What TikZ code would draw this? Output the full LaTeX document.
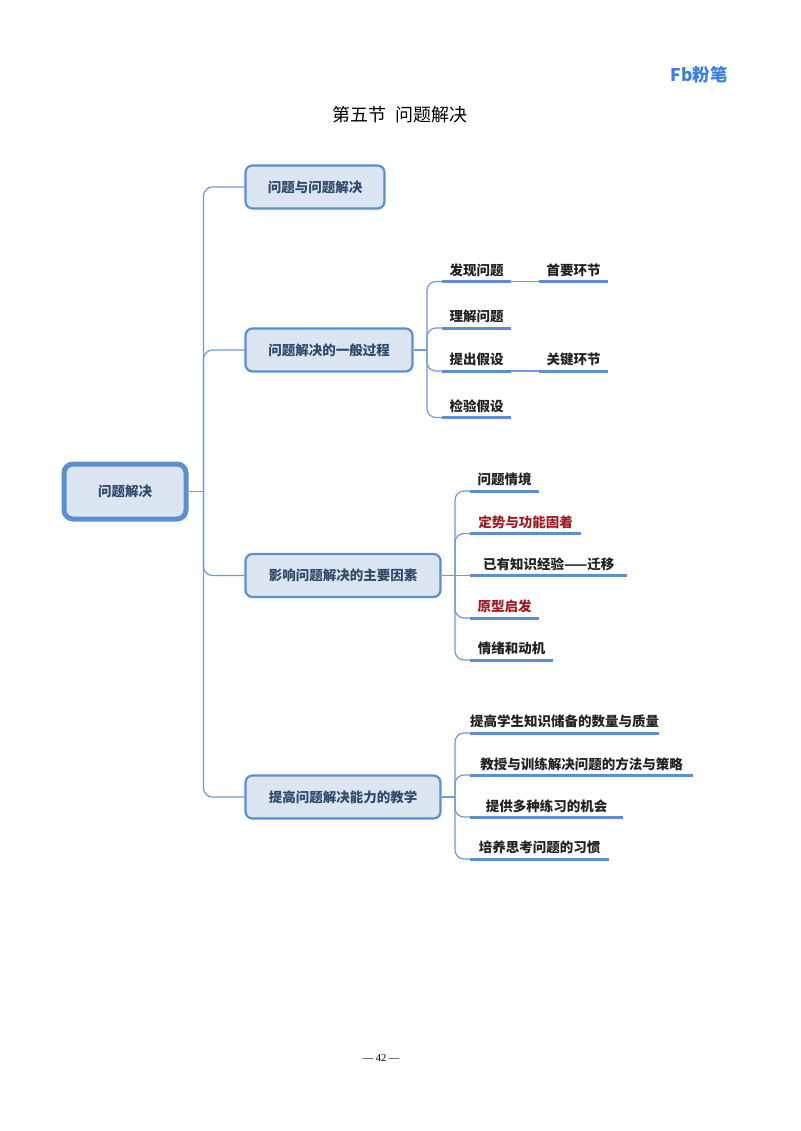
\documentclass[tikz,border=0pt]{standalone}
\usepackage{fontspec}
\setmainfont{Liberation Serif}
\newfontfamily\cjk{Noto Sans CJK SC}
\definecolor{linec}{HTML}{6F9BD6}
\definecolor{edgec}{HTML}{5B8FD0}
\definecolor{fillc}{HTML}{DCE6F2}
\definecolor{textb}{HTML}{2F4A6B}
\definecolor{textk}{HTML}{222222}
\definecolor{textr}{HTML}{A01C24}
\definecolor{logoc}{HTML}{3D7FE0}
\tikzset{
  conn/.style={draw=linec,line width=1.2pt,rounded corners=9pt},
  boxn/.style={draw=edgec,fill=fillc,rounded corners=7pt,line width=2.2pt,inner sep=0pt,
    text=textb,font=\cjk\bfseries\fontsize{13.5}{14}\selectfont},
  rootn/.style={boxn,line width=5pt,rounded corners=9pt},
  leaf/.style={anchor=south west,inner sep=0pt,minimum height=22pt,text=textk,
    font=\cjk\bfseries\fontsize{13.5}{14}\selectfont,align=center},
  leafred/.style={leaf,text=textr},
  under/.style={draw=edgec,line width=3pt},
}
\newcommand{\leafnode}[6][leaf]{%
  \node[#1,minimum width=#3-#2] (#6) at (#2,#4) {#5};
  \draw[under] (#6.south west) -- (#6.south east);}
\begin{document}
\begin{tikzpicture}[x=1pt,y=-1pt]
\useasboundingbox[fill=white] (0,0) rectangle (800,1131);
\node[inner sep=0pt,text=logoc,font=\cjk\bfseries\fontsize{17.5}{18}\selectfont] (logo) at (699,75) {Fb粉笔};
\node[inner sep=0pt,text=black,font=\cjk\fontsize{18}{20}\selectfont] (title) at (400,115) {第五节\ \ 问题解决};
\node[inner sep=0pt,text=black,font=\fontsize{10.5}{12}\selectfont] (pg) at (381,1058) {— 42 —};

\node[rootn,minimum width=122pt,minimum height=55pt] (root) at (125,491.5) {问题解决};
\node[boxn,minimum width=139pt,minimum height=43pt] (b1) at (315,187) {问题与问题解决};
\node[boxn,minimum width=167pt,minimum height=43pt] (b2) at (329,350) {问题解决的一般过程};
\node[boxn,minimum width=195pt,minimum height=43pt] (b3) at (343,575.5) {影响问题解决的主要因素};
\node[boxn,minimum width=195pt,minimum height=43pt] (b4) at (343,797) {提高问题解决能力的教学};

\coordinate (tr) at (203.5,491.5);
\draw[conn] (root.east) -- (tr);
\draw[conn] (tr) |- (b1.west);
\draw[conn] (tr) |- (b2.west);
\draw[conn] (tr) |- (b3.west);
\draw[conn] (tr) |- (b4.west);

\leafnode{442}{511}{281.5}{发现问题}{p1}
\leafnode{442}{511}{328}{理解问题}{p2}
\leafnode{442}{511}{371}{提出假设}{p3}
\leafnode{442}{511}{417.5}{检验假设}{p4}
\leafnode{539}{608}{281.5}{首要环节}{p1a}
\leafnode{539}{608}{371}{关键环节}{p3a}
\coordinate (j2) at (427,350);
\draw[conn] (b2.east) -- (j2);
\foreach \n in {p1,p2,p3,p4} \draw[conn] (j2) |- (\n.south west);
\draw[conn] (p1.south east) -- (p1a.south west);
\draw[conn] (p3.south east) -- (p3a.south west);

\leafnode{470}{539}{491}{问题情境}{f1}
\leafnode[leafred]{470}{581}{533.5}{定势与功能固着}{f2}
\leafnode{470}{627}{575.5}{已有知识经验——迁移}{f3}
\leafnode[leafred]{470}{539}{618}{原型启发}{f4}
\leafnode{470}{553}{660}{情绪和动机}{f5}
\coordinate (j3) at (455,575.5);
\draw[conn] (b3.east) -- (j3);
\draw[conn] (j3) -- (f3.south west);
\foreach \n in {f1,f2,f4,f5} \draw[conn] (j3) |- (\n.south west);

\leafnode{470}{651}{733}{提高学生知识储备的数量与质量}{t1}
\leafnode{470}{693}{775}{教授与训练解决问题的方法与策略}{t2}
\leafnode{470}{623}{817}{提供多种练习的机会}{t3}
\leafnode{470}{609}{859}{培养思考问题的习惯}{t4}
\coordinate (j4) at (455,797);
\draw[conn] (b4.east) -- (j4);
\foreach \n in {t1,t2,t3,t4} \draw[conn] (j4) |- (\n.south west);
\end{tikzpicture}
\end{document}
